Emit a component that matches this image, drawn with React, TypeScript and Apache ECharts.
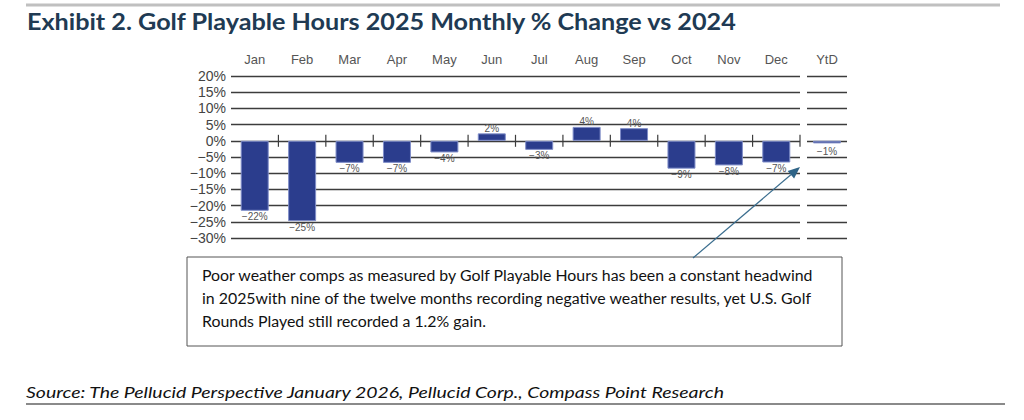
import React, { useEffect, useRef } from "react";
import * as echarts from "echarts";

const MONTHS = ["Jan", "Feb", "Mar", "Apr", "May", "Jun", "Jul", "Aug", "Sep", "Oct", "Nov", "Dec"];
const MONTH_VALUES = [-21.6, -24.8, -6.8, -6.8, -3.6, 2.3, -2.8, 4.3, 3.9, -8.6, -7.6, -6.7];
const YTD_CATEGORY = ["YtD"];
const YTD_VALUES = [-0.8];
const Y_MIN = -30;
const Y_MAX = 20;
const Y_STEP = 5;

const TITLE = "Exhibit 2. Golf Playable Hours 2025 Monthly % Change vs 2024";
const NOTE_LINES = [
  "Poor weather comps as measured by Golf Playable Hours has been a constant headwind",
  "in 2025with nine of the twelve months recording negative weather results, yet U.S. Golf",
  "Rounds Played still recorded a 1.2% gain.",
];
const SOURCE = "Source: The Pellucid Perspective January 2026, Pellucid Corp., Compass Point Research";

const BAR_COLOR = "#2b3d8d";
const GRID_COLOR = "#3c3c3c";
const LABEL_FONT = "'Liberation Sans Narrow', 'Liberation Sans', Arial, sans-serif";
const TEXT_FONT = "Lato, 'Open Sans', sans-serif";

function measure(text: string, font: string): number {
  const c = document.createElement("canvas").getContext("2d");
  if (!c) return 1;
  c.font = font;
  return c.measureText(text).width || 1;
}

const fmtPct = (v: number) => (v < 0 ? "\u2212" : "") + Math.abs(Math.round(v)) + "%";

function barData(values: number[]) {
  return values.map((v) => ({
    value: v,
    label: { position: v < 0 ? "bottom" : "top", distance: v < 0 ? 1 : 0 },
  }));
}

export default function App() {
  const ref = useRef<HTMLDivElement>(null);
  useEffect(() => {
    if (!ref.current) return;
    const chart = echarts.init(ref.current, undefined, { renderer: "svg" });

    const titleFont = `bold 22px ${TEXT_FONT}`;
    const titleScale = 711 / measure(TITLE, titleFont);
    const noteFont = `15px ${TEXT_FONT}`;
    const noteScale = 613 / measure(NOTE_LINES[0], noteFont);
    const srcFont = `italic 15px ${TEXT_FONT}`;
    const srcScale = 700 / measure(SOURCE, srcFont);

    // arrow geometry
    const ax0 = 693, ay0 = 258, ax1 = 800, ay1 = 167;
    const dx = ax1 - ax0, dy = ay1 - ay0;
    const len = Math.sqrt(dx * dx + dy * dy);
    const ux = dx / len, uy = dy / len;
    const nx = -uy, ny = ux;
    const headL = 12, headW = 5;
    const bx = ax1 - headL * ux, by = ay1 - headL * uy;

    const yAxisCommon = {
      type: "value",
      min: Y_MIN,
      max: Y_MAX,
      interval: Y_STEP,
      axisLine: { show: false },
      axisTick: { show: false },
      splitLine: { show: true, lineStyle: { color: GRID_COLOR, width: 1.4 } },
    };

    const labelStyle = {
      show: true,
      formatter: (p: any) => fmtPct(p.value),
      fontSize: 10,
      color: "#555",
      fontFamily: LABEL_FONT,
    };

    const option: any = {
      animation: false,
      backgroundColor: "#ffffff",
      grid: [
        { left: 231, right: 224, top: 76, bottom: 182 },
        { left: 807, width: 40, top: 76, bottom: 182 },
      ],
      xAxis: [
        {
          type: "category",
          gridIndex: 0,
          data: MONTHS,
          position: "top",
          axisLine: { show: false },
          axisTick: { show: false },
          axisLabel: { margin: 10, fontSize: 13, color: "#555", fontFamily: LABEL_FONT },
        },
        {
          type: "category",
          gridIndex: 1,
          data: YTD_CATEGORY,
          position: "top",
          axisLine: { show: false },
          axisTick: { show: false },
          axisLabel: { margin: 10, fontSize: 13, color: "#555", fontFamily: LABEL_FONT },
        },
      ],
      yAxis: [
        {
          ...yAxisCommon,
          gridIndex: 0,
          axisLabel: {
            formatter: (v: number) => fmtPct(v),
            fontSize: 14,
            color: "#444",
            margin: 5,
            fontFamily: LABEL_FONT,
          },
        },
        { ...yAxisCommon, gridIndex: 1, axisLabel: { show: false } },
      ],
      series: [
        {
          type: "bar",
          xAxisIndex: 0,
          yAxisIndex: 0,
          data: barData(MONTH_VALUES),
          barWidth: 28,
          itemStyle: { color: BAR_COLOR, borderColor: "#7f8dc8", borderWidth: 1 },
          label: labelStyle,
          z: 3,
        },
        {
          type: "bar",
          xAxisIndex: 1,
          yAxisIndex: 1,
          data: YTD_VALUES.map((v) => ({ value: v, label: { position: "bottom", distance: 3 } })),
          barWidth: 28,
          itemStyle: { color: BAR_COLOR, borderColor: "#7f8dc8", borderWidth: 1 },
          label: labelStyle,
          z: 3,
        },
        {
          type: "custom",
          xAxisIndex: 0,
          yAxisIndex: 0,
          silent: true,
          z: 4,
          data: MONTHS.map((_, i) => [i, 0]),
          encode: { x: 0, y: 1 },
          renderItem: (params: any, api: any) => {
            const p = api.coord([api.value(0), 0]);
            const bw = api.size([1, 0])[0];
            const x = p[0] + bw / 2;
            return {
              type: "line",
              shape: { x1: x, y1: p[1] - 6, x2: x, y2: p[1] + 6 },
              style: { stroke: GRID_COLOR, lineWidth: 1.2 },
            };
          },
        },
      ],
      graphic: [
        {
          type: "line",
          shape: { x1: 26, y1: 5, x2: 1000, y2: 5 },
          style: { stroke: "#c0c0c0", lineWidth: 3 },
          silent: true,
        },
        {
          type: "text",
          x: 27,
          y: 22,
          scaleX: titleScale,
          style: {
            text: TITLE,
            fill: "#203a53",
            fontSize: 22,
            fontWeight: "bold",
            fontFamily: TEXT_FONT,
            align: "left",
            verticalAlign: "middle",
          },
        },
        {
          type: "rect",
          shape: { x: 187, y: 257, width: 655, height: 89 },
          style: { fill: "#ffffff", stroke: "#555", lineWidth: 1 },
          z: 10,
        },
        ...NOTE_LINES.map((t, i) => ({
          type: "text",
          x: 202,
          y: 275 + i * 23,
          scaleX: noteScale,
          z: 11,
          style: {
            text: t,
            fill: "#111",
            fontSize: 15,
            fontFamily: TEXT_FONT,
            align: "left",
            verticalAlign: "middle",
          },
        })),
        {
          type: "line",
          shape: { x1: ax0, y1: ay0, x2: bx, y2: by },
          style: { stroke: "#3a6d8e", lineWidth: 1.2 },
          z: 12,
        },
        {
          type: "polygon",
          shape: {
            points: [
              [ax1, ay1],
              [bx + headW * nx, by + headW * ny],
              [bx - headW * nx, by - headW * ny],
            ],
          },
          style: { fill: "#2f6487" },
          z: 12,
        },
        {
          type: "text",
          x: 26,
          y: 392,
          scaleX: srcScale,
          style: {
            text: SOURCE,
            fill: "#111",
            fontSize: 15,
            fontStyle: "italic",
            fontFamily: TEXT_FONT,
            align: "left",
            verticalAlign: "middle",
          },
        },
        {
          type: "line",
          shape: { x1: 26, y1: 404, x2: 1005, y2: 404 },
          style: { stroke: "#8a8a8a", lineWidth: 2 },
          silent: true,
        },
      ],
    };

    chart.setOption(option);
    return () => chart.dispose();
  }, []);

  return (
    <div
      ref={ref}
      style={{ position: "absolute", left: 0, top: 0, width: 1024, height: 420, background: "#fff" }}
    />
  );
}
